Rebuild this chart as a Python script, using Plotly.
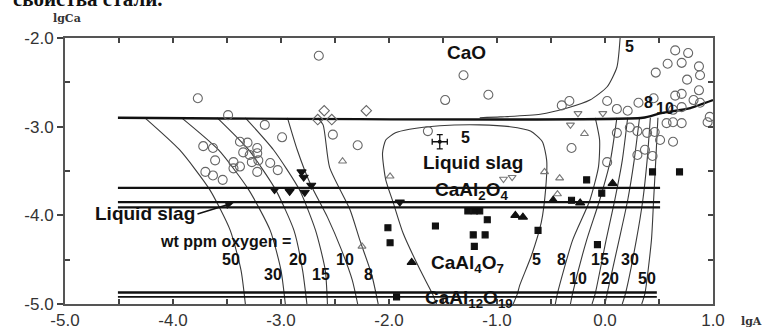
import plotly.graph_objects as go

# ---------------- axis ticks ----------------
x_ticks = [-5.0, -4.0, -3.0, -2.0, -1.0, 0.0, 1.0]
x_tick_text = ["-5.0", "-4.0", "-3.0", "-2.0", "-1.0", "0.0", "1.0"]
y_ticks = [-5.0, -4.0, -3.0, -2.0]
y_tick_text = ["-5.0", "-4.0", "-3.0", "-2.0"]

# ---------------- phase boundaries ----------------
cao_bound_lgA = [-4.51, 0.35, 0.51, 0.79, 1.0]
cao_bound_lgCa = [-2.90, -2.90, -2.85, -2.79, -2.70]
bound_levels = [-3.69, -3.85, -3.91, -4.87, -4.92]
bound_start = [-4.51, -4.51, -4.51, -4.51, -4.51]
bound_end = [0.51, 0.51, 0.51, 0.48, 0.48]
bound_width = [2.2, 2.2, 2.2, 2.4, 1.6]

# ---------------- iso-oxygen curves (wt ppm) ----------------
left_lgCa = [-2.90, -3.26, -3.71, -4.17, -4.62, -5.0]
o50_left_lgA = [-4.26, -3.94, -3.66, -3.47, -3.37, -3.33]
o30_left_lgA = [-3.92, -3.58, -3.30, -3.10, -3.00, -2.96]
o20_left_lgA = [-3.59, -3.30, -3.05, -2.88, -2.80, -2.76]
o15_left_lgA = [-3.33, -3.07, -2.83, -2.68, -2.59, -2.57]
o10_left_lgA = [-2.94, -2.85, -2.73, -2.57, -2.44, -2.34, -2.29]
o10_left_lgCa = [-2.90, -3.26, -3.64, -4.02, -4.39, -4.73, -5.0]
o8_left_lgA = [-2.66, -2.61, -2.55, -2.36, -2.27, -2.16, -2.10]
o8_left_lgCa = [-2.90, -2.98, -3.46, -3.94, -4.28, -4.67, -5.0]

o5_loop_lgA = [-1.56, -1.60, -1.71, -1.87, -1.96, -2.03, -2.06, -2.03, -1.94, -1.81,
               -1.53, -1.16, -0.88, -0.69, -0.58, -0.54, -0.55, -0.59, -0.68, -0.79,
               -0.81, -0.85]
o5_loop_lgCa = [-5.0, -4.88, -4.62, -4.20, -3.86, -3.60, -3.30, -3.15, -3.07, -3.03,
                -2.99, -2.98, -3.00, -3.05, -3.17, -3.38, -3.71, -4.08, -4.45, -4.79,
                -4.88, -5.0]

o5_cao_lgA = [0.14, 0.11, 0.02, -0.14, -0.35, -0.60, -0.97, -1.16]
o5_cao_lgCa = [-2.0, -2.33, -2.55, -2.70, -2.79, -2.86, -2.89, -2.90]

o8_right_lgA = [-0.46, -0.44, -0.30, -0.14, -0.06, -0.05, -0.09]
o8_right_lgCa = [-5.0, -4.88, -4.28, -3.83, -3.45, -3.15, -2.90]
right_lgCa = [-5.0, -4.88, -4.28, -3.83, -3.38, -2.90]
o10_right_lgA = [-0.32, -0.30, -0.17, -0.05, 0.05, 0.11]
o15_right_lgA = [-0.12, -0.09, 0.01, 0.09, 0.16, 0.21]
o20_right_lgA = [0.00, 0.02, 0.13, 0.21, 0.27, 0.32]
o30_right_lgA = [0.16, 0.19, 0.29, 0.35, 0.39, 0.42]
o50_right_lgA = [0.34, 0.37, 0.43, 0.45, 0.47, 0.49]

# ---------------- measured points ----------------
circ_lgA = [-3.77, -3.49, -3.72, -3.63, -3.61, -3.70, -3.63, -3.54, -3.44, -3.38,
            -3.31, -3.35, -3.38, -3.44, -3.27, -3.22, -3.22, -3.29, -3.21, -3.22,
            -3.10, -3.03, -3.15, -2.99, -2.52, -2.29, -2.65, -1.31, -1.48, -1.08,
            -1.64,
            0.65, 0.77, 0.58, 0.71, 0.87, 0.47, 0.88, 0.76, 0.87, 0.71,
            0.65, 0.82, 0.88, 0.02, 0.11, 0.21, 0.31, 0.45, 0.71, 0.63,
            0.57, 0.63, 0.71, 0.97, 0.95, 0.11, 0.23, 0.30, 0.39, 0.46,
            0.51, 0.63, -0.31, 0.02, 0.30, 0.37, 0.44, -0.40, -0.33]
circ_lgCa = [-2.68, -2.87, -3.22, -3.24, -3.38, -3.51, -3.55, -3.60, -3.40, -3.17,
             -3.18, -3.29, -3.45, -3.47, -3.40, -3.30, -3.24, -3.32, -3.38, -3.51,
             -3.41, -3.49, -2.98, -3.12, -3.09, -3.21, -2.20, -2.42, -2.70, -2.64,
             -3.05,
             -2.14, -2.17, -2.29, -2.28, -2.32, -2.39, -2.42, -2.47, -2.59, -2.63,
             -2.65, -2.70, -2.73, -2.71, -2.80, -2.82, -2.73, -2.68, -2.78, -2.81,
             -2.96, -2.95, -2.96, -2.89, -2.95, -3.07, -3.01, -3.05, -3.07, -3.06,
             -3.15, -3.17, -3.24, -3.40, -3.32, -3.26, -3.33, -2.76, -2.71]

diam_lgA = [-2.60, -2.21, -2.66, -2.53]
diam_lgCa = [-2.82, -2.82, -2.92, -2.92]

tri_up_open_lgA = [-2.43, -1.99, -0.56, -0.42, -0.44, -0.19, -2.25]
tri_up_open_lgCa = [-3.39, -3.56, -3.51, -3.58, -3.76, -3.08, -4.35]

tri_dn_open_lgA = [-0.25, -0.02, -0.32, -0.94, -0.86]
tri_dn_open_lgCa = [-2.85, -2.85, -2.98, -3.59, -3.57]

tri_dn_fill_lgA = [-3.06, -2.92, -2.78, -2.81, -2.79, -2.72, -1.90]
tri_dn_fill_lgCa = [-3.71, -3.73, -3.74, -3.51, -3.57, -3.66, -3.85]

sq_lgA = [-2.01, -1.99, -1.57, -1.09, -1.22, -1.11, -1.21, -1.27, -1.21, -1.16,
          -0.62, -0.17, -0.03, -0.31, -0.07, 0.44, 0.69, -1.93, -2.96]
sq_lgCa = [-4.14, -4.31, -4.12, -4.05, -4.22, -4.22, -4.35, -3.95, -3.95, -3.95,
           -4.17, -3.60, -3.75, -3.83, -4.33, -3.51, -3.51, -4.92, -5.01]

tri_up_fill_lgA = [-1.79, -0.83, -0.76, -0.48, -0.23, 0.07]
tri_up_fill_lgCa = [-4.53, -4.00, -4.02, -3.83, -3.86, -3.64]

err_lgA = [-1.53]
err_lgCa = [-3.17]
err_dx = [0.07]
err_dy = [0.08]

# ---------------- figure ----------------
fig = go.Figure()
CURVE = dict(color="#3a3a3a", width=1.1, shape="spline", smoothing=0.6)


def add_line(xs, ys, line):
    fig.add_trace(go.Scatter(x=xs, y=ys, mode="lines", line=line,
                             hoverinfo="skip", showlegend=False))


# thin iso-oxygen curves
for xs, ys in [
    (o50_left_lgA, left_lgCa), (o30_left_lgA, left_lgCa), (o20_left_lgA, left_lgCa),
    (o15_left_lgA, left_lgCa), (o10_left_lgA, o10_left_lgCa), (o8_left_lgA, o8_left_lgCa),
    (o5_loop_lgA, o5_loop_lgCa), (o5_cao_lgA, o5_cao_lgCa),
    (o8_right_lgA, o8_right_lgCa), (o10_right_lgA, right_lgCa),
    (o15_right_lgA, right_lgCa), (o20_right_lgA, right_lgCa),
    (o30_right_lgA, right_lgCa), (o50_right_lgA, right_lgCa),
]:
    add_line(xs, ys, CURVE)

# thick phase boundaries
add_line(cao_bound_lgA, cao_bound_lgCa, dict(color="#111", width=2.4, shape="spline", smoothing=0.5))
for lvl, x0, x1, w in zip(bound_levels, bound_start, bound_end, bound_width):
    add_line([x0, x1], [lvl, lvl], dict(color="#111", width=w))


def add_pts(xs, ys, symbol, size, color, fill=None, lw=1.1):
    fig.add_trace(go.Scatter(
        x=xs, y=ys, mode="markers", showlegend=False, hoverinfo="skip",
        marker=dict(symbol=symbol, size=size, color=fill or color,
                    line=dict(color=color, width=lw)),
        cliponaxis=False))


add_pts(circ_lgA, circ_lgCa, "circle-open", 9, "#666")
add_pts(diam_lgA, diam_lgCa, "diamond-open", 8, "#666")
add_pts(tri_up_open_lgA, tri_up_open_lgCa, "triangle-up-open", 7, "#777")
add_pts(tri_dn_open_lgA, tri_dn_open_lgCa, "triangle-down-open", 7, "#777")
add_pts(tri_dn_fill_lgA, tri_dn_fill_lgCa, "triangle-down", 8, "#111")
add_pts(sq_lgA, sq_lgCa, "square", 6, "#111")
add_pts(tri_up_fill_lgA, tri_up_fill_lgCa, "triangle-up", 8, "#111")

fig.add_trace(go.Scatter(
    x=err_lgA, y=err_lgCa, mode="markers", showlegend=False, hoverinfo="skip",
    marker=dict(symbol="circle", size=4, color="#111"),
    error_x=dict(type="data", array=err_dx, color="#111", thickness=1.3, width=3),
    error_y=dict(type="data", array=err_dy, color="#111", thickness=1.3, width=3)))

# ---------------- text ----------------
BIG = dict(family="Liberation Sans, Arial, sans-serif", size=19, color="#111")
NUM = dict(family="Liberation Sans, Arial, sans-serif", size=16, color="#111")

labels = [
    ("<b>CaO</b>", -1.28, -2.16, BIG),
    ("<b>5</b>", 0.23, -2.10, NUM),
    ("<b>8</b>", 0.40, -2.73, NUM),
    ("<b>10</b>", 0.56, -2.79, NUM),
    ("<b>5</b>", -1.29, -3.12, NUM),
    ("<b>Liquid slag</b>", -1.22, -3.40, BIG),
    ("<b>CaAl<sub>2</sub>O<sub>4</sub></b>", -1.24, -3.73, BIG),
    ("<b>CaAl<sub>4</sub>O<sub>7</sub></b>", -1.27, -4.55, BIG),
    ("<b>CaAl<sub>12</sub>O<sub>19</sub></b>", -1.26, -4.94, BIG),
    ("<b>wt ppm oxygen =</b>", -3.51, -4.29, NUM),
    ("<b>50</b>", -3.46, -4.50, NUM),
    ("<b>30</b>", -3.07, -4.67, NUM),
    ("<b>20</b>", -2.84, -4.50, NUM),
    ("<b>15</b>", -2.63, -4.67, NUM),
    ("<b>10</b>", -2.41, -4.50, NUM),
    ("<b>8</b>", -2.19, -4.67, NUM),
    ("<b>5</b>", -0.63, -4.50, NUM),
    ("<b>8</b>", -0.40, -4.50, NUM),
    ("<b>15</b>", -0.05, -4.50, NUM),
    ("<b>30</b>", 0.23, -4.50, NUM),
    ("<b>10</b>", -0.25, -4.71, NUM),
    ("<b>20</b>", 0.05, -4.71, NUM),
    ("<b>50</b>", 0.39, -4.71, NUM),
]
annotations = [dict(text=t, x=x, y=y, xref="x", yref="y", showarrow=False,
                    font=f, xanchor="center", yanchor="middle") for t, x, y, f in labels]

annotations.append(dict(text="<b>Liquid slag</b>", x=-3.44, y=-3.86, xref="x", yref="y",
                        showarrow=True, arrowhead=2, arrowsize=1, arrowwidth=1.6,
                        arrowcolor="#111", ax=-36, ay=11, xanchor="right", yanchor="middle",
                        font=BIG, standoff=0))
SMALL = dict(family="DejaVu Serif", size=11, color="#333")
annotations.append(dict(text="<b>lgCa</b>", x=0.003, y=1.072, xref="paper", yref="paper",
                        xanchor="center", yanchor="middle", showarrow=False, font=SMALL))
annotations.append(dict(text="<b>lgA</b>", x=1.060, y=-0.064, xref="paper", yref="paper",
                        xanchor="center", yanchor="middle", showarrow=False, font=SMALL))
annotations.append(dict(text="<b>свойства стали.</b>", x=-0.083, y=1.145, xref="paper",
                        yref="paper", xanchor="left", yanchor="middle", showarrow=False,
                        font=dict(family="Liberation Serif", size=21, color="#111")))

TICKFONT = dict(family="Liberation Sans, Arial, sans-serif", size=17, color="#333")
fig.update_layout(
    width=768, height=329, autosize=False,
    margin=dict(l=65, r=55, t=38, b=25, autoexpand=False),
    paper_bgcolor="white", plot_bgcolor="white",
    annotations=annotations,
    xaxis=dict(range=[-5, 1], tickvals=x_ticks, ticktext=x_tick_text, ticks="inside",
               ticklen=5, tickwidth=1.5, tickcolor="#444", showgrid=False, zeroline=False,
               showline=True, linecolor="#555", linewidth=2, mirror="ticks",
               tickfont=TICKFONT, ticklabelstandoff=0, automargin=False,
               minor=dict(tickvals=[-4.5, -3.5, -2.5, -1.5, -0.5, 0.5], ticks="inside",
                          ticklen=5, tickwidth=1.5, tickcolor="#444")),
    yaxis=dict(range=[-5, -2], tickvals=y_ticks, ticktext=y_tick_text, ticks="outside",
               ticklen=6, tickwidth=1.5, tickcolor="#444", showgrid=False, zeroline=False,
               showline=True, linecolor="#555", linewidth=2, mirror=True,
               tickfont=TICKFONT, automargin=False,
               minor=dict(tickvals=[-4.5, -3.5, -2.5], ticks="inside",
                          ticklen=5, tickwidth=1.5, tickcolor="#444")),
    yaxis2=dict(range=[-5, -2], overlaying="y", side="right",
                tickvals=[-4.5, -4.0, -3.5, -3.0, -2.5],
                ticks="inside", ticklen=5, tickwidth=1.5, tickcolor="#444", showticklabels=False,
                showgrid=False, zeroline=False, showline=False, automargin=False),
)
# empty trace bound to the right axis so its ticks are drawn
fig.add_trace(go.Scatter(x=[None], y=[None], yaxis="y2", showlegend=False, hoverinfo="skip"))

fig.write_html("out.html", config={"displayModeBar": False},
               post_script="document.body.style.margin='0';")
